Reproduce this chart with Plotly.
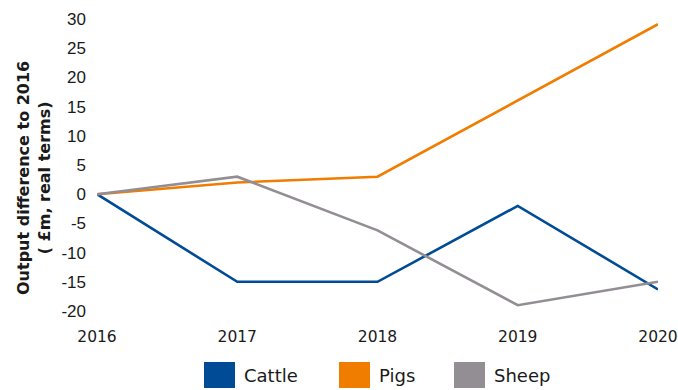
import plotly.graph_objects as go

years = [2016, 2017, 2018, 2019, 2020]
cattle = [0, -15, -15, -2, -16.3]
pigs = [0, 2, 3, 16, 29.1]
sheep = [0, 3, -6.2, -19, -15]

y_ticks = [-20, -15, -10, -5, 0, 5, 10, 15, 20, 25, 30]
y_tick_labels = ["-20", "-15", "-10", "-5", "0", "5", "10", "15", "20", "25", "30"]
x_tick_labels = ["2016", "2017", "2018", "2019", "2020"]

series_names = ["Cattle", "Pigs", "Sheep"]
series_values = [cattle, pigs, sheep]
series_colors = ["#004B96", "#F07C00", "#928E94"]

W, H = 678, 390
L, R, T, B = 97, 20, 19, 79
PW, PH = W - L - R, H - T - B


def px_x(px):
    # pixel column -> paper x
    return (px - L) / PW


def px_y(py):
    # pixel row -> paper y
    return (H - B - py) / PH


fig = go.Figure()
for name, vals, color in zip(series_names, series_values, series_colors):
    fig.add_trace(go.Scatter(
        x=years, y=vals, mode="lines", name=name,
        line=dict(color=color, width=2.6),
        showlegend=False,
    ))

# legend: coloured boxes with labels underneath the plot
key_left = [204, 339, 454]
shapes, annotations = [], []
for name, color, x0 in zip(series_names, series_colors, key_left):
    shapes.append(dict(
        type="rect", xref="paper", yref="paper",
        x0=px_x(x0), x1=px_x(x0 + 31), y0=px_y(388), y1=px_y(362),
        fillcolor=color, line=dict(width=0),
    ))
    annotations.append(dict(
        text=name, xref="paper", yref="paper",
        x=px_x(x0 + 38), y=px_y(375), xanchor="left", yanchor="middle",
        showarrow=False, font=dict(family="DejaVu Sans", size=18, color="#1a1a1a"),
    ))

# y-axis title
annotations.append(dict(
    text="<b>Output difference to 2016<br>( £m, real terms)</b>",
    xref="paper", yref="paper", x=px_x(34), y=px_y(178),
    xanchor="center", yanchor="middle", textangle=-90, align="center",
    showarrow=False, font=dict(family="DejaVu Sans", size=16, color="#1a1a1a"),
))

fig.update_layout(
    width=W, height=H,
    margin=dict(l=L, r=R, t=T, b=B, autoexpand=False),
    paper_bgcolor="white", plot_bgcolor="white",
    font=dict(family="DejaVu Sans", size=15, color="#1a1a1a"),
    showlegend=False,
    shapes=shapes, annotations=annotations,
    xaxis=dict(
        range=[2016, 2020], tickmode="array", tickvals=years,
        ticktext=x_tick_labels,
        showgrid=False, zeroline=False, showline=False, ticks="",
        ticklabelstandoff=14, ticklabeloverflow="allow", automargin=False,
        tickfont=dict(family="DejaVu Sans", size=15.5, color="#1a1a1a"),
    ),
    yaxis=dict(
        range=[-20, 30], tickmode="array", tickvals=y_ticks,
        ticktext=y_tick_labels,
        showgrid=False, zeroline=False, showline=False, ticks="",
        ticklabelstandoff=10, automargin=False,
        tickfont=dict(family="Liberation Sans", size=17, color="#1a1a1a"),
    ),
)

fig.write_html("out.html")
